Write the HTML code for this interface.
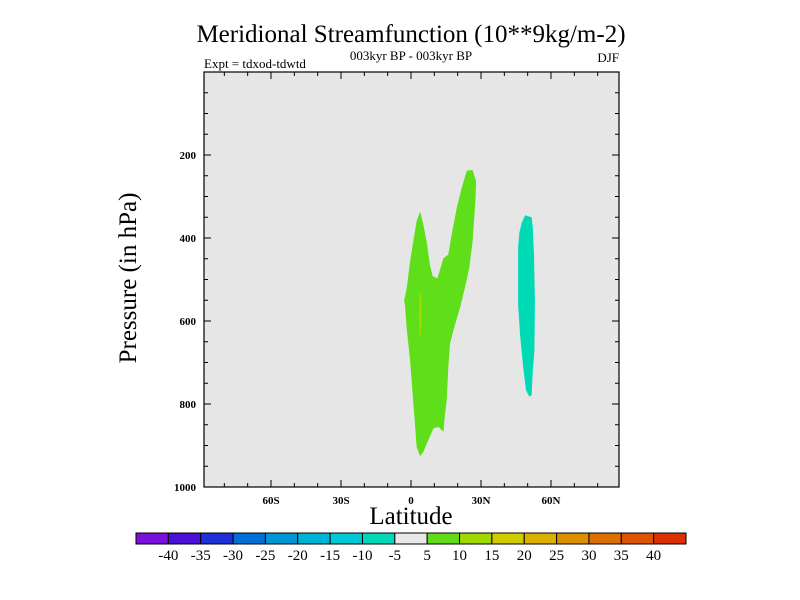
<!DOCTYPE html>
<html><head><meta charset="utf-8"><style>
html,body{margin:0;padding:0;background:#fff;}
svg{display:block;font-family:"Liberation Serif",serif;}
</style></head><body>
<svg id="chart" width="800" height="600" viewBox="0 0 800 600">
<text x="411" y="42" font-size="25" text-anchor="middle">Meridional Streamfunction (10**9kg/m-2)</text>
<text x="411" y="60" font-size="13" text-anchor="middle">003kyr BP - 003kyr BP</text>
<text x="204" y="68" font-size="13">Expt = tdxod-tdwtd</text>
<text x="619" y="62" font-size="13" text-anchor="end">DJF</text>
<text transform="translate(136,278) rotate(-90)" font-size="25" text-anchor="middle">Pressure (in hPa)</text>
<text x="411" y="524" font-size="25" text-anchor="middle">Latitude</text>
<g id="plot"></g>
<g id="cbar"></g>
</svg>
<script>
const greenLat=[-3.0,-1.9,-0.4,1.0,2.4,3.9,5.3,6.7,8.1,9.3,11.3,12.7,13.9,16.0,17.4,19.6,21.7,23.9,26.4,27.9,27.6,26.4,25.0,23.1,21.0,18.1,16.7,16.0,15.3,14.6,13.9,11.7,9.6,7.4,5.3,3.9,2.4,1.6,0.7,-0.4,-1.9,-2.6];
const greenP=[552,523,456,408,360,336,368,408,464,492,497,472,449,440,392,328,280,238,236,264,312,408,472,520,568,624,655,712,791,823,867,855,859,887,915,926,903,839,775,695,616,559];
const yellowLat=[3.6,4.4,4.6,4.2,3.7,3.3];
const yellowP=[532,532,600,635,635,590];
const cyanLat=[48.9,51.7,52.2,52.7,53.1,52.9,52.2,51.7,50.7,49.3,48.1,46.7,45.9,45.9,46.4,47.4];
const cyanP=[345,350,376,440,552,671,719,779,782,767,712,631,559,424,388,364];
const yTicks=[200,400,600,800,1000];
const xTicks=[-60,-30,0,30,60];
const xTickLabels=["60S","30S","0","30N","60N"];
const cbarLabels=[-40,-35,-30,-25,-20,-15,-10,-5,5,10,15,20,25,30,35,40];
const cbarColors=["#7a10dc","#4a10d8","#2030d8","#0070d8","#0096d4","#00b4d8","#00c8d4","#00d8b8","#e8e8e8","#60dc18","#a0d800","#d0cc00","#dcb000","#dc9000","#dc7000","#dc5400","#dc3000"];

const NS="http://www.w3.org/2000/svg";
const L=204,R=619,T=72,B=487;
const x=lat=>411+lat*70/30;
const y=p=>T+p*(B-T)/1000;
function mk(tag,attrs,parent){const e=document.createElementNS(NS,tag);for(const k in attrs)e.setAttribute(k,attrs[k]);parent.appendChild(e);return e;}
const plot=document.getElementById('plot');
const bg=mk('rect',{x:L,y:T,width:R-L,height:B-T,fill:'#e6e6e6'},plot);


function poly(lats,ps,color,name){
  const pts=lats.map((la,i)=>x(la).toFixed(1)+','+y(ps[i]).toFixed(1)).join(' ');
  const e=mk('polygon',{points:pts,fill:color},plot);
  
  
}
poly(greenLat,greenP,'#5fdf1a','contour-positive-5-10');
poly(yellowLat,yellowP,'#a0d800','contour-positive-10-15');
poly(cyanLat,cyanP,'#00d9b5','contour-negative-10-5');
// minor/major ticks
for(let la=-80;la<=80;la+=10){
  const major=la%30===0, len=major?7:4;
  mk('line',{x1:x(la),x2:x(la),y1:B,y2:B-len,stroke:'#000','stroke-width':1},plot);
  mk('line',{x1:x(la),x2:x(la),y1:T,y2:T+len,stroke:'#000','stroke-width':1},plot);
}
for(let p=50;p<1000;p+=50){
  const major=p%200===0, len=major?7:4;
  mk('line',{x1:L,x2:L+len,y1:y(p),y2:y(p),stroke:'#000','stroke-width':1},plot);
  mk('line',{x1:R,x2:R-len,y1:y(p),y2:y(p),stroke:'#000','stroke-width':1},plot);
}
mk('rect',{x:L,y:T,width:R-L,height:B-T,fill:'none',stroke:'#000','stroke-width':1.2},plot);
yTicks.forEach(p=>{
  const t=mk('text',{x:L-8,y:y(p)+4,'font-size':11,'font-weight':'bold','text-anchor':'end'},plot);
  t.textContent=p;
  
  
});
xTicks.forEach((la,i)=>{
  const t=mk('text',{x:x(la),y:B+17,'font-size':11,'font-weight':'bold','text-anchor':'middle'},plot);
  t.textContent=xTickLabels[i];
  
  
});
const cb=document.getElementById('cbar');
const cx0=136,cx1=686,cy=533,ch=11,bw=(cx1-cx0)/cbarColors.length;
cbarColors.forEach((c,i)=>{
  const r=mk('rect',{x:cx0+i*bw,y:cy,width:bw,height:ch,fill:c,stroke:'#000','stroke-width':1},cb);
  
  
});
cbarLabels.forEach((v,i)=>{
  const t=mk('text',{x:cx0+(i+1)*bw,y:cy+27,'font-size':15,'text-anchor':'middle'},cb);
  t.textContent=v;
  
  
});
</script>
</body></html>
